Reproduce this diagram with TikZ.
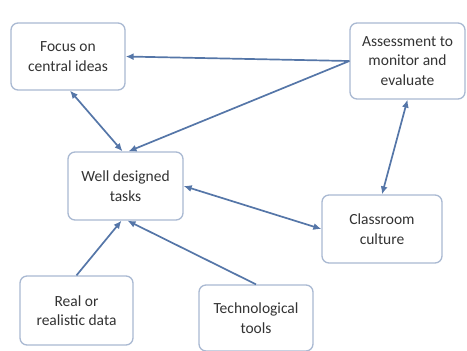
\documentclass[tikz,border=0pt]{standalone}
\usepackage{fontspec}
\setmainfont{Carlito}
\usetikzlibrary{arrows.meta,calc}
\definecolor{edgeblue}{HTML}{5576A8}
\definecolor{boxline}{HTML}{A9B9D2}
\definecolor{txt}{HTML}{333333}
\tikzset{
  box/.style={draw=boxline, line width=1.3bp, rounded corners=7bp, fill=white,
    inner sep=0pt, align=center, text=txt,
    font=\fontsize{15.5bp}{19.5bp}\selectfont},
  conn/.style={draw=edgeblue, line width=1.7bp, -{Latex[length=8bp,width=7bp]}},
  bconn/.style={draw=edgeblue, line width=1.7bp, {Latex[length=8bp,width=7bp]}-{Latex[length=8bp,width=7bp]}}
}
\begin{document}
\begin{tikzpicture}[x=1bp,y=-1bp]
\useasboundingbox (0,0) rectangle (467,350);
\node[box, minimum width=114bp, minimum height=67bp] (focus) at (68,56.5) {Focus on\\central ideas};
\node[box, minimum width=115bp, minimum height=76bp] (assess) at (407.5,61) {Assessment to\\monitor and\\evaluate};
\node[box, minimum width=115bp, minimum height=68bp] (well) at (125.5,186) {Well designed\\tasks};
\node[box, minimum width=120bp, minimum height=68bp] (culture) at (382,229) {Classroom\\culture};
\node[box, minimum width=113bp, minimum height=69bp] (real) at (76.5,310.5) {Real or\\realistic data};
\node[box, minimum width=114bp, minimum height=66bp] (tech) at (256,318) {Technological\\tools};
\draw[conn] (assess.west) -- (focus.east);
\draw[conn] (assess.west) -- ($(well.north)+(3,0)$);
\draw[bconn] ($(focus.south)+(2,0)$) -- ($(well.north)+(-3,0)$);
\draw[bconn] (well.east) -- (culture.west);
\draw[bconn] (assess.south) -- (culture.north);
\draw[conn] (real.north) -- ($(well.south)+(-4,0)$);
\draw[conn] (tech.north) -- ($(well.south)+(2,0)$);
\end{tikzpicture}
\end{document}
